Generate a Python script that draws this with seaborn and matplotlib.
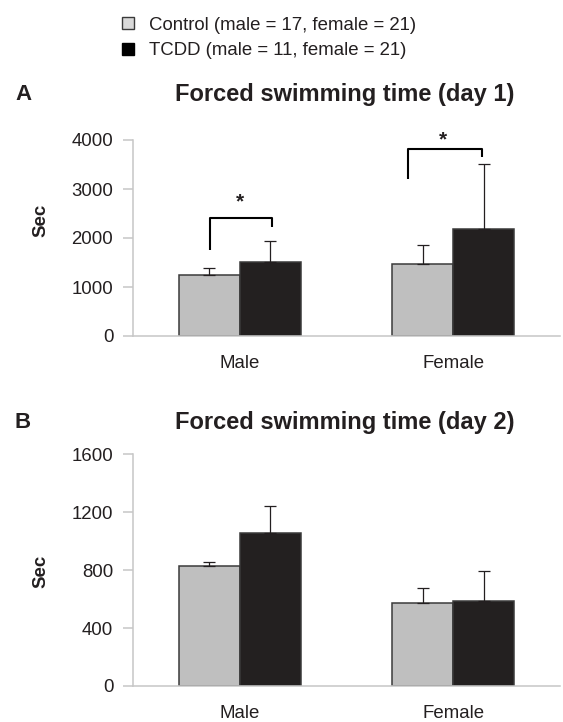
import pandas as pd
import matplotlib
matplotlib.use("Agg")
import matplotlib.pyplot as plt
import seaborn as sns
from matplotlib.patches import Patch

# values (seconds)
sexes = ["Male", "Female"]
groups = ["Control", "TCDD"]
legend_labels = ["Control (male = 17, female = 21)", "TCDD (male = 11, female = 21)"]

day1_control = [1239, 1469]
day1_control_err = [155, 388]
day1_tcdd = [1504, 2177]
day1_tcdd_err = [441, 1340]

day2_control = [829, 573]
day2_control_err = [27, 102]
day2_tcdd = [1059, 589]
day2_tcdd_err = [186, 205]

# significance brackets on day 1: (category, left x, right x, top y, left leg end, right leg end)
brackets_day1 = [
    (0, -0.14, 0.15, 2415, 1755, 2231),
    (1, -0.21, 0.135, 3810, 3204, 3646),
]
stars_day1 = [(0, 0.0, 2730), (1, -0.05, 4000)]

sns.set_theme(style="white")
plt.rcParams["font.family"] = ["Liberation Sans", "DejaVu Sans"]

text_col = "#231f20"
grid_col = "#c6c6c6"
colors = ["#bfbfbf", "#231f20"]

W, H = 563, 722
fig = plt.figure(figsize=(W / 100, H / 100), dpi=100)


def make_df(control, tcdd):
    rows = []
    for i, s in enumerate(sexes):
        rows.append({"sex": s, "group": groups[0], "sec": control[i]})
        rows.append({"sex": s, "group": groups[1], "sec": tcdd[i]})
    return pd.DataFrame(rows)


def draw_panel(ax, control, control_err, tcdd, tcdd_err, ymax, step):
    df = make_df(control, tcdd)
    sns.barplot(data=df, x="sex", y="sec", hue="group", order=sexes, hue_order=groups,
                palette=colors, width=0.57, errorbar=None, legend=False,
                edgecolor="#3a3a3a", linewidth=1.1, ax=ax)
    # one-sided error bars on top of each bar
    for cont, err in zip(ax.containers, [control_err, tcdd_err]):
        xs = [b.get_x() + b.get_width() / 2 for b in cont]
        ys = [b.get_height() for b in cont]
        ax.errorbar(xs, ys, yerr=[[0] * len(err), err], fmt="none",
                    ecolor=text_col, elinewidth=0.9, capsize=4.5, capthick=0.9, zorder=1)
    ax.set_xlim(-0.5, 1.5)
    ax.set_ylim(0, ymax)
    ax.set_yticks(range(0, ymax + 1, step))
    ax.set_xlabel("")
    ax.set_ylabel("")
    sns.despine(ax=ax)
    for side in ["left", "bottom"]:
        ax.spines[side].set_color(grid_col)
        ax.spines[side].set_linewidth(1.1)
    ax.set_xticks([-0.5, 0.5, 1.5], minor=True)
    ax.tick_params(axis="x", which="major", length=0, pad=14, labelsize=13.4, colors=text_col)
    ax.tick_params(axis="x", which="minor", length=7.2, width=1.1, color=grid_col, direction="out")
    ax.tick_params(axis="y", length=7.2, width=1.1, color=grid_col, labelcolor=text_col,
                   labelsize=13.4, pad=7, direction="out", left=True)
    ax.set_facecolor("white")


axA = fig.add_axes([133 / W, 1 - 336 / H, 427 / W, 196 / H])
draw_panel(axA, day1_control, day1_control_err, day1_tcdd, day1_tcdd_err, 4000, 1000)

for cat, xl, xr, ytop, yl, yr in brackets_day1:
    axA.plot([cat + xl, cat + xl, cat + xr, cat + xr], [yl, ytop, ytop, yr],
             color="black", lw=1.5, solid_capstyle="butt", clip_on=False)
for cat, xs, ys in stars_day1:
    axA.text(cat + xs, ys, "*", ha="center", va="center", fontsize=15, fontweight="bold",
             color=text_col, clip_on=False)

axB = fig.add_axes([133 / W, 1 - 686 / H, 427 / W, 231.7 / H])
draw_panel(axB, day2_control, day2_control_err, day2_tcdd, day2_tcdd_err, 1600, 400)

# panel letters, titles, y labels
fig.text(23 / W, 1 - 95 / H, "A", ha="center", va="center", fontsize=16, fontweight="bold", color=text_col)
fig.text(345 / W, 1 - 95 / H, "Forced swimming time (day 1)", ha="center", va="center",
         fontsize=17, fontweight="bold", color=text_col)
fig.text(23 / W, 1 - 423 / H, "B", ha="center", va="center", fontsize=16, fontweight="bold", color=text_col)
fig.text(345 / W, 1 - 423 / H, "Forced swimming time (day 2)", ha="center", va="center",
         fontsize=17, fontweight="bold", color=text_col)
fig.text(41 / W, 1 - 220 / H, "Sec", rotation=90, ha="center", va="center",
         fontsize=13.4, fontweight="bold", color=text_col)
fig.text(41 / W, 1 - 571 / H, "Sec", rotation=90, ha="center", va="center",
         fontsize=13.4, fontweight="bold", color=text_col)

# legend at the top
handles = [Patch(facecolor="#d9d9d9", edgecolor="#3a3a3a", linewidth=1.0),
           Patch(facecolor="#000000", edgecolor="#000000", linewidth=1.0)]
fig.legend(handles, legend_labels, loc="upper left", bbox_to_anchor=(122 / W, 1 - 17 / H),
           frameon=False, fontsize=13.4, handlelength=0.62, handleheight=0.62,
           handletextpad=0.85, labelspacing=0.45, borderpad=0, borderaxespad=0,
           labelcolor=text_col)

fig.savefig("out.png", dpi=100, facecolor="white")
